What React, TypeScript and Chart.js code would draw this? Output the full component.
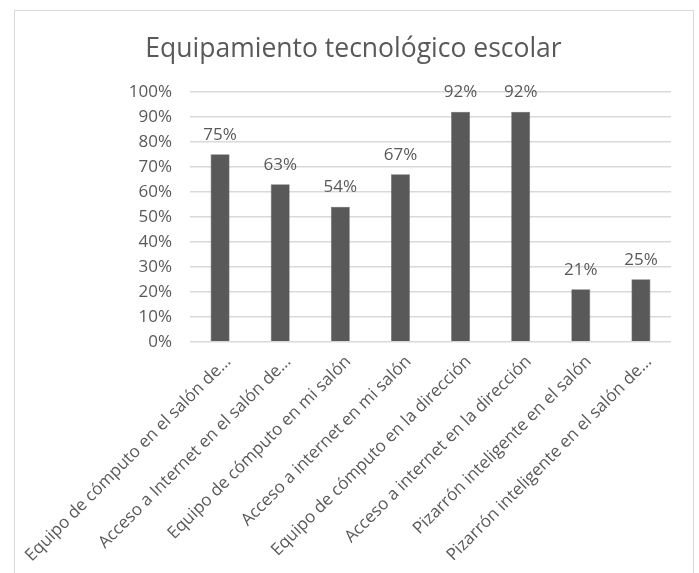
import React, { useEffect, useRef } from "react";
import { Chart, registerables } from "chart.js";

Chart.register(...registerables);

const categories: string[] = [
  "Equipo de cómputo en el salón de…",
  "Acceso a Internet en el salón de…",
  "Equipo de cómputo en mi salón",
  "Acceso a internet en mi salón",
  "Equipo de cómputo en la dirección",
  "Acceso a internet en la dirección",
  "Pizarrón inteligente en el salón",
  "Pizarrón inteligente en el salón de…",
];
const values: number[] = [75, 63, 54, 67, 92, 92, 21, 25];
const titleText = "Equipamiento tecnológico escolar";
const yMin = 0;
const yMax = 100;
const yStep = 10;

const FONT = "'Open Sans', 'DejaVu Sans', sans-serif";
const TEXT = "#595959";

const dataLabels = {
  id: "dataLabels",
  afterDatasetsDraw(chart: any) {
    const ctx = chart.ctx;
    const meta = chart.getDatasetMeta(0);
    ctx.save();
    ctx.font = `17px ${FONT}`;
    ctx.fillStyle = TEXT;
    ctx.textAlign = "center";
    ctx.textBaseline = "alphabetic";
    meta.data.forEach((el: any, i: number) => {
      ctx.fillText(values[i] + "%", el.x, el.y - 14.5);
    });
    ctx.restore();
  },
};

export default function App() {
  const ref = useRef<HTMLCanvasElement | null>(null);
  useEffect(() => {
    if (!ref.current) return;
    const chart = new Chart(ref.current, {
      type: "bar",
      data: {
        labels: categories,
        datasets: [
          {
            data: values,
            backgroundColor: "#595959",
            borderColor: "#636363",
            borderWidth: 0.6,
            barPercentage: 0.316,
            categoryPercentage: 1,
          },
        ],
      },
      plugins: [dataLabels],
      options: {
        animation: false,
        responsive: true,
        maintainAspectRatio: false,
        layout: { padding: 0 },
        plugins: {
          legend: { display: false },
          tooltip: { enabled: false },
          title: {
            display: true,
            text: titleText,
            color: TEXT,
            font: { family: FONT, size: 26.5, weight: "normal" as any },
            padding: { top: 22.2, bottom: 26.7 },
          },
        },
        scales: {
          x: {
            grid: { display: false, drawTicks: false },
            border: { display: false },
            ticks: {
              autoSkip: false,
              maxRotation: 45,
              minRotation: 45,
              color: TEXT,
              padding: 10,
              labelOffset: 8,
              font: { family: FONT, size: 17 },
            },
            afterFit(scale: any) {
              scale.height = 231.3;
              scale.paddingLeft = 0;
              scale.paddingRight = 21;
            },
          },
          y: {
            min: yMin,
            max: yMax,
            grid: { color: "#d9d9d9", lineWidth: 1.5, drawTicks: false },
            border: { display: false },
            ticks: {
              stepSize: yStep,
              color: TEXT,
              padding: 18,
              font: { family: FONT, size: 17 },
              callback: (v: any) => v + "%",
            },
            afterFit(scale: any) {
              scale.width = 175;
            },
          },
        },
      },
    });
    return () => chart.destroy();
  }, []);

  return (
    <div
      style={{
        position: "fixed",
        left: 14,
        top: 10,
        width: 680,
        height: 620,
        border: "1.5px solid #d9d9d9",
        boxSizing: "border-box",
        background: "#fff",
      }}
    >
      <div style={{ position: "absolute", left: 0, top: 0, width: 677, height: 562 }}>
        <canvas ref={ref} />
      </div>
    </div>
  );
}
